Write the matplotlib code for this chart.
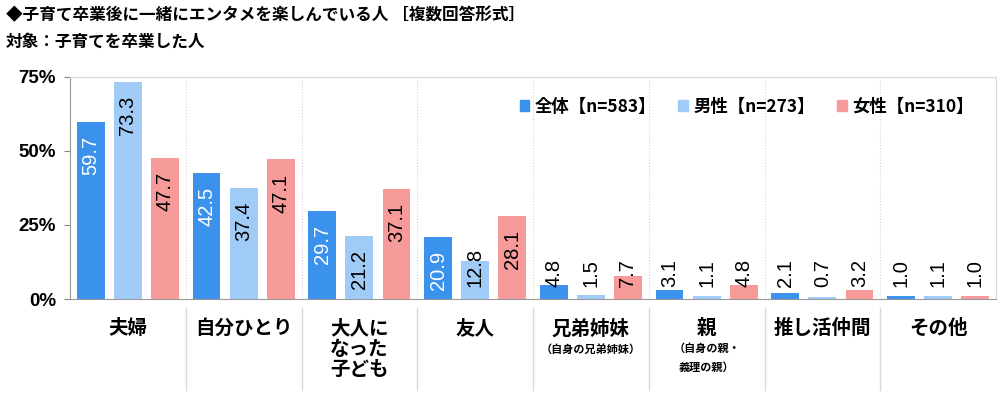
import matplotlib.pyplot as plt
from matplotlib.patches import Patch
from matplotlib.ticker import FixedLocator
import numpy as np

plt.rcParams['font.family'] = ['Noto Sans CJK JP', 'DejaVu Sans']

categories = ['夫婦', '自分ひとり', '大人に\nなった\n子ども', '友人', '兄弟姉妹', '親', '推し活仲間', 'その他']
sub_labels = ['', '', '', '', '（自身の兄弟姉妹）', '（自身の親・\n義理の親）', '', '']
series_names = ['全体【n=583】', '男性【n=273】', '女性【n=310】']
total = [59.7, 42.5, 29.7, 20.9, 4.8, 3.1, 2.1, 1.0]
male = [73.3, 37.4, 21.2, 12.8, 1.5, 1.1, 0.7, 1.1]
female = [47.7, 47.1, 37.1, 28.1, 7.7, 4.8, 3.2, 1.0]
yticks = [0, 25, 50, 75]

colors = ['#3a92ec', '#9fcbf6', '#f69a9a']
inside_text = ['white', 'black', 'black']

fig = plt.figure(figsize=(10, 3.94), dpi=100)
ax = fig.add_axes([0.070, 0.241, 0.926, 0.564])

x = np.arange(len(categories))
width = 0.24
step = 0.32
for i, vals in enumerate([total, male, female]):
    pos = x + (i - 1) * step
    ax.bar(pos, vals, width, color=colors[i], zorder=3)
    for p, v in zip(pos, vals):
        if v >= 15:
            ax.annotate(f'{v:.1f}', (p, v), xytext=(0, -10), textcoords='offset points',
                        rotation=90, ha='center', va='top', fontsize=14.5,
                        family='Liberation Sans', color=inside_text[i], zorder=4)
        else:
            ax.text(p, 4, f'{v:.1f}', rotation=90, ha='center', va='bottom',
                    fontsize=14.5, family='Liberation Sans', color='black', zorder=4)

ax.set_xlim(-0.5, len(categories) - 0.5)
ax.set_ylim(0, 75)
ax.yaxis.set_major_locator(FixedLocator(yticks))
ax.set_yticklabels([f'{t}%' for t in yticks], fontsize=13.5, fontweight='bold',
                   family='Liberation Sans')
ax.tick_params(axis='y', length=4, color='#888888', pad=6)
ax.set_xticks([])
for s in ['left', 'bottom']:
    ax.spines[s].set_color('#999999')
for s in ['top', 'right']:
    ax.spines[s].set_color('#d8d8d8')

# category separators
for b in x[:-1] + 0.5:
    ax.axvline(b, color='#d5d5d5', lw=0.8, ls=':', zorder=1)
    ax.plot([b, b], [-0.04, -0.41], color='#d8d8d8', lw=1,
            transform=ax.get_xaxis_transform(), clip_on=False)

for xi, (lab, sub) in enumerate(zip(categories, sub_labels)):
    ax.text(xi, -0.09, lab, transform=ax.get_xaxis_transform(), ha='center', va='top',
            fontsize=14, fontweight='bold', linespacing=1.1)
    if sub:
        ax.text(xi, -0.195, sub, transform=ax.get_xaxis_transform(), ha='center', va='top',
                fontsize=8, fontweight='bold', linespacing=1.6)

handles = [Patch(color=c) for c in colors]
leg = ax.legend(handles, series_names, loc='center right', bbox_to_anchor=(0.985, 0.865),
                ncol=3, frameon=False, handlelength=0.55, handleheight=0.55,
                handletextpad=0.3, columnspacing=1.3, borderpad=0,
                prop={'family': ['Noto Sans CJK JP', 'DejaVu Sans'], 'weight': 'bold', 'size': 12.5})

fig.text(0.006, 0.962, '◆子育て卒業後に一緒にエンタメを楽しんでいる人 ［複数回答形式］',
         ha='left', va='center', fontsize=12, fontweight='bold')
fig.text(0.006, 0.893, '対象：子育てを卒業した人', ha='left', va='center',
         fontsize=12, fontweight='bold')

fig.savefig('out.png', dpi=100)
